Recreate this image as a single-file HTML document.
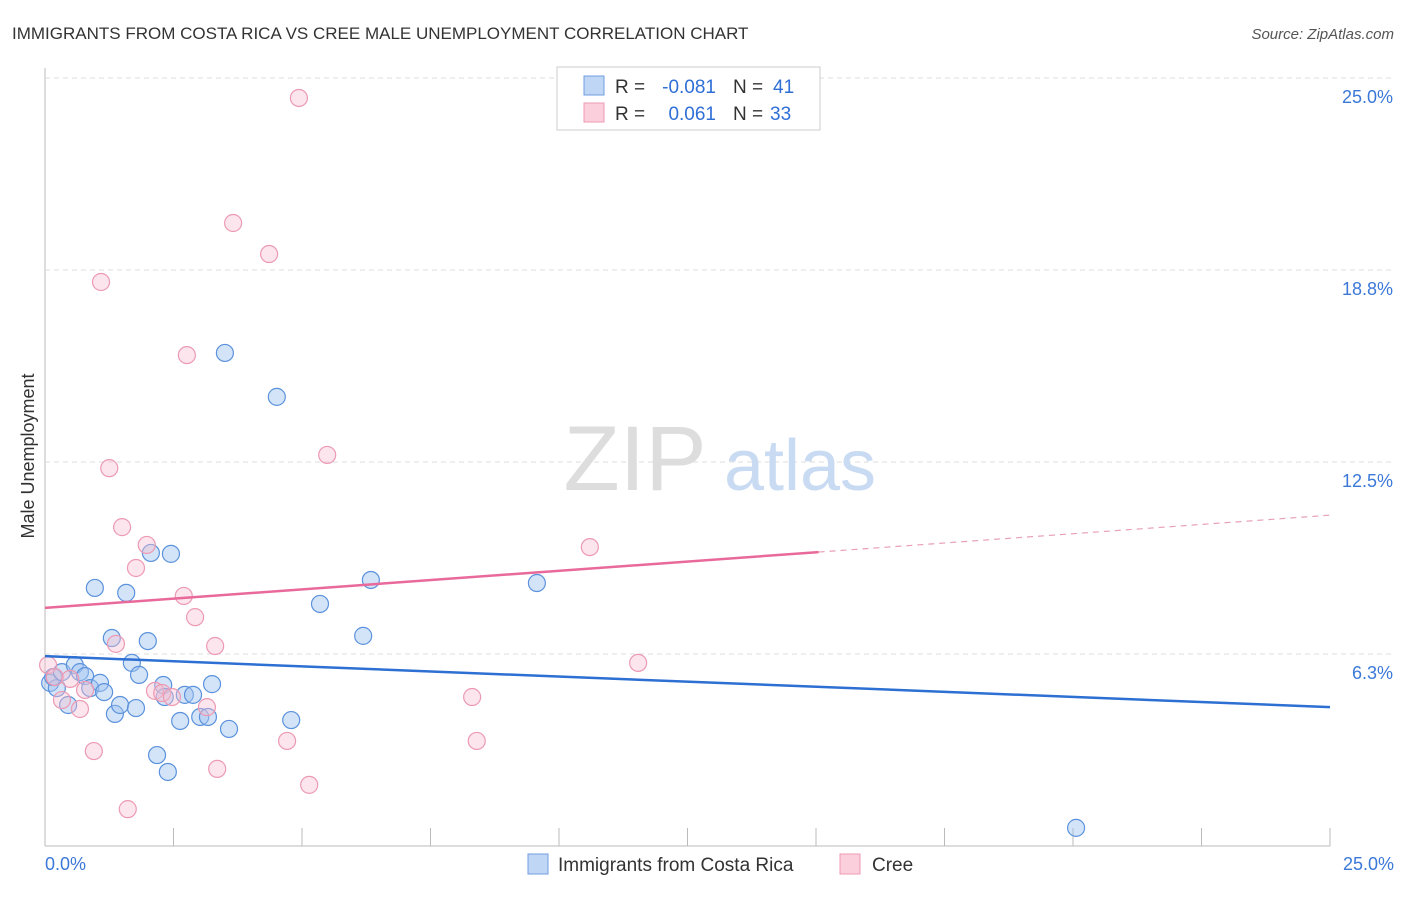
<!DOCTYPE html>
<html><head><meta charset="utf-8"><style>
body{margin:0;background:#fff;font-family:"Liberation Sans",sans-serif}
svg text{font-family:"Liberation Sans",sans-serif}
</style></head><body>
<svg id="chart" width="1406" height="892">
<text x="12" y="39" font-size="17" fill="#333">IMMIGRANTS FROM COSTA RICA VS CREE MALE UNEMPLOYMENT CORRELATION CHART</text>
<text x="1394" y="39" font-size="15" fill="#555" font-style="italic" text-anchor="end">Source: ZipAtlas.com</text>
<g id="grid"></g>
<text x="635" y="490" font-size="92" fill="#ddd" font-family="Liberation Serif" text-anchor="middle">ZIP</text>
<text x="800" y="490" font-size="72" fill="#c9dbf2" text-anchor="middle">atlas</text>
<text transform="translate(34,456) rotate(-90)" font-size="18" fill="#333" text-anchor="middle">Male Unemployment</text>
<g id="marks"></g>
<g>
<rect x="557" y="67" width="263" height="63" fill="#fff" stroke="#ccc"/>
<rect x="584" y="76" width="20" height="19" fill="#c0d6f5" stroke="#6f9ee0"/>
<rect x="584" y="103" width="20" height="19" fill="#fbd0dc" stroke="#eb9ab2"/>
<text x="615" y="93" font-size="19" fill="#333">R =</text>
<text x="716" y="93" font-size="19" fill="#2f6fd6" text-anchor="end">-0.081</text>
<text x="733" y="93" font-size="19" fill="#333">N =</text>
<text x="773" y="93" font-size="19" fill="#2f6fd6">41</text>
<text x="615" y="120" font-size="19" fill="#333">R =</text>
<text x="716" y="120" font-size="19" fill="#2f6fd6" text-anchor="end">0.061</text>
<text x="733" y="120" font-size="19" fill="#333">N =</text>
<text x="770" y="120" font-size="19" fill="#2f6fd6">33</text>
</g>
<g>
<rect x="528" y="854" width="20" height="20" fill="#c0d6f5" stroke="#6f9ee0"/>
<text x="558" y="871" font-size="19" fill="#333">Immigrants from Costa Rica</text>
<rect x="840" y="854" width="20" height="20" fill="#fbd0dc" stroke="#eb9ab2"/>
<text x="872" y="871" font-size="19" fill="#333">Cree</text>
</g>
</svg>
<script>
const yTicks=[6.25,12.5,18.75,25];
const yTickLabels=["6.3%","12.5%","18.8%","25.0%"];
const xTickLabels=["0.0%","25.0%"];
const blueX=[0.10,0.23,0.16,0.33,0.58,0.68,0.78,0.88,1.07,1.15,0.45,0.97,1.58,1.30,1.69,1.83,1.36,1.46,1.77,2.00,2.06,2.45,2.30,2.33,2.63,2.72,2.88,3.02,3.17,3.25,3.58,2.18,2.39,3.50,4.51,4.79,5.35,6.34,6.19,9.57,20.06];
const blueY=[5.31,5.14,5.50,5.66,5.89,5.66,5.53,5.14,5.31,5.01,4.59,8.40,8.24,6.77,5.96,5.57,4.30,4.59,4.49,6.67,9.54,9.51,5.24,4.85,4.07,4.92,4.92,4.20,4.20,5.27,3.81,2.96,2.41,16.05,14.62,4.10,7.88,8.66,6.84,8.56,0.59];
const pinkX=[0.06,0.19,0.49,0.33,0.68,0.78,1.09,1.25,1.38,1.50,1.77,1.98,2.14,2.28,2.47,2.70,2.92,2.76,3.15,3.31,3.35,3.66,4.36,4.71,4.94,5.14,5.49,0.95,1.61,8.31,8.40,10.60,11.54];
const pinkY=[5.89,5.50,5.44,4.75,4.46,5.08,18.36,12.30,6.58,10.38,9.05,9.80,5.05,4.98,4.85,8.14,7.45,15.98,4.52,6.51,2.51,20.28,19.27,3.42,24.35,1.99,12.73,3.09,1.20,4.85,3.42,9.73,5.96];
const blueTrend=[6.18,4.52];
const pinkTrend=[7.75,10.77];
const pinkSolidEnd=15.05;
const X=v=>45+v*51.4, Y=v=>846-v*30.72;
const NS="http://www.w3.org/2000/svg";
function mk(t,a,p){const e=document.createElementNS(NS,t);for(const k in a)e.setAttribute(k,a[k]);p.appendChild(e);return e;}
const g=document.getElementById('grid'), m=document.getElementById('marks');
const ax=mk('line',{x1:45,y1:68,x2:45,y2:846,stroke:'#bbb'},g);


const bx=mk('line',{x1:45,y1:846,x2:1330,y2:846,stroke:'#bbb'},g);


for(let i=1;i<=10;i++){const t=mk('line',{x1:45+i*128.5,y1:828,x2:45+i*128.5,y2:846,stroke:'#bbb'},g);

}
yTicks.forEach((v,i)=>{const l=mk('line',{x1:45,y1:Y(v),x2:1394,y2:Y(v),stroke:'#ddd','stroke-dasharray':'5,4'},g);


const t=mk('text',{x:1393,y:Y(v)+25,'font-size':18,fill:'#3b78d8','text-anchor':'end'},g);t.textContent=yTickLabels[i];

});
[[0,'start',45],[25,'end',1394]].forEach((d,i)=>{const t=mk('text',{x:d[2],y:870,'font-size':18,fill:'#3b78d8','text-anchor':d[1]},g);t.textContent=xTickLabels[i];

});
blueX.forEach((x,i)=>{const c=mk('circle',{cx:X(x),cy:Y(blueY[i]),r:8.5,fill:'rgba(160,196,240,0.45)',stroke:'#5b92dc','stroke-width':1.2},m);

});
pinkX.forEach((x,i)=>{const c=mk('circle',{cx:X(x),cy:Y(pinkY[i]),r:8.5,fill:'rgba(248,190,208,0.4)',stroke:'#ec9ab3','stroke-width':1.2},m);

});
const pAt=x=>pinkTrend[0]+(pinkTrend[1]-pinkTrend[0])*x/25;
const bl=mk('line',{x1:X(0),y1:Y(blueTrend[0]),x2:X(25),y2:Y(blueTrend[1]),stroke:'#2d6fd2','stroke-width':2.5},m);


const pl=mk('line',{x1:X(0),y1:Y(pAt(0)),x2:X(pinkSolidEnd),y2:Y(pAt(pinkSolidEnd)),stroke:'#e8699a','stroke-width':2.5},m);


const pd=mk('line',{x1:X(pinkSolidEnd),y1:Y(pAt(pinkSolidEnd)),x2:X(25),y2:Y(pAt(25)),stroke:'#e8a0b8','stroke-width':1.2,'stroke-dasharray':'6,5'},m);


</script>
</body></html>
